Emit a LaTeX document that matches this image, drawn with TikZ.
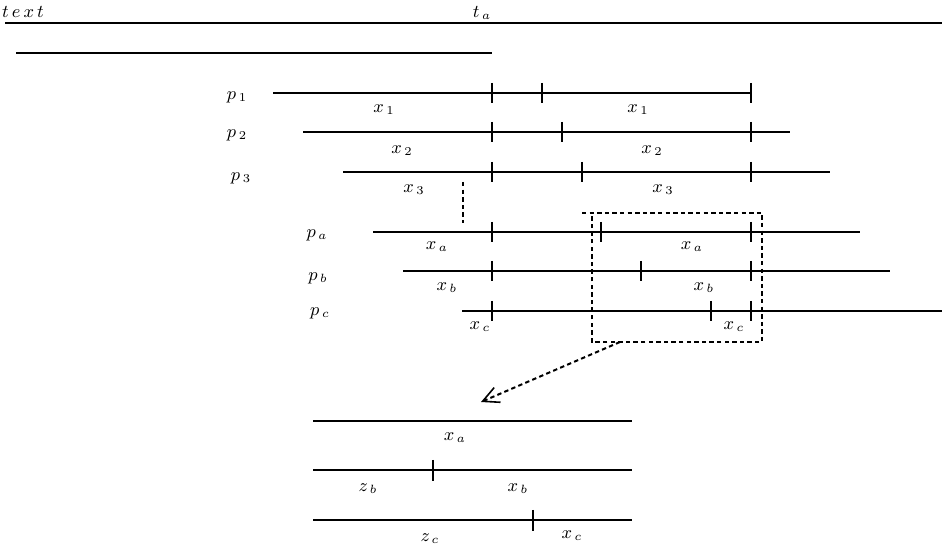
\documentclass[tikz,border=0pt]{standalone}
\usetikzlibrary{arrows.meta}
\begin{document}
\begin{tikzpicture}[x=0.5pt,y=-0.5pt,
  seg/.style={line width=0.9pt},
  tick/.style={line width=0.9pt},
  lbl/.style={inner sep=0pt,font=\fontsize{9}{10}\selectfont},
  dsh/.style={line width=1pt,dash pattern=on 2.2pt off 1.6pt},
]
\useasboundingbox (0,0) rectangle (942,549);
% header
\node[lbl] (txt) at (23,12) {$t\,e\,x\,t$};
\node[lbl] (ta) at (482,13) {$t_{\,a}$};
\draw[seg] (5,23) coordinate (h1) -- (942,23) coordinate (h2);
\draw[seg] (16,53) coordinate (g1) -- (492,53) coordinate (g2);
% rows: label, y, start, end, ticks
\newcommand{\rowline}[5]{%
  \draw[seg] (#3,#2) -- (#4,#2);
  \foreach \t in {#5} {\draw[tick] (\t,#2-10) -- (\t,#2+10);}
}
\node[lbl] (p1) at (237,97) {$p_{\,1}$};
\rowline{p1}{93}{273}{751}{492,542,751}
\node[lbl] (x1a) at (384,110) {$x_{\,1}$};
\node[lbl] (x1b) at (638,110) {$x_{\,1}$};

\node[lbl] (p2) at (237,135) {$p_{\,2}$};
\rowline{p2}{132}{303}{790}{492,562,751}
\node[lbl] (x2a) at (402,151) {$x_{\,2}$};
\node[lbl] (x2b) at (652,151) {$x_{\,2}$};

\node[lbl] (p3) at (241,178) {$p_{\,3}$};
\rowline{p3}{172}{343}{830}{492,582,751}
\node[lbl] (x3a) at (414,190) {$x_{\,3}$};
\node[lbl] (x3b) at (663,190) {$x_{\,3}$};

\draw[dsh] (463,182) coordinate (v1) -- (463,223) coordinate (v2);

\node[lbl] (pa) at (317,235) {$p_{\,a}$};
\rowline{pa}{232}{373}{860}{492,601,751}
\node[lbl] (xaa) at (437,247) {$x_{\,a}$};
\node[lbl] (xab) at (692,247) {$x_{\,a}$};

\node[lbl] (pb) at (318,278) {$p_{\,b}$};
\rowline{pb}{271}{403}{890}{492,641,751}
\node[lbl] (xba) at (447,288) {$x_{\,b}$};
\node[lbl] (xbb) at (704,288) {$x_{\,b}$};

\node[lbl] (pc) at (320,313) {$p_{\,c}$};
\rowline{pc}{311}{462}{942}{492,711,751}
\node[lbl] (xca) at (480,327) {$x_{\,c}$};
\node[lbl] (xcb) at (734,327) {$x_{\,c}$};

% dashed box
\coordinate (bx1) at (582,213);
\coordinate (bx2) at (762,213);
\coordinate (bx3) at (762,342);
\coordinate (bx4) at (592,342);
\coordinate (bx5) at (592,213);
\draw[dsh] (bx1) -- (bx2) -- (bx3) -- (bx4) -- (bx5);
\coordinate (arS) at (620,342);
\coordinate (arE) at (481,402);
\draw[dsh,-{Straight Barb[length=8pt,width=8pt,line width=0.8pt]}] (arS) -- (arE);

% bottom
\draw[seg] (313,421) -- (632,421);
\node[lbl] (bxa) at (455,438) {$x_{\,a}$};
\draw[seg] (313,470) -- (632,470);
\draw[tick] (433,460) -- (433,481);
\node[lbl] (bzb) at (368,489) {$z_{\,b}$};
\node[lbl] (bxb) at (518,489) {$x_{\,b}$};
\draw[seg] (313,520) -- (632,520);
\draw[tick] (533,510) -- (533,531);
\node[lbl] (bzc) at (430,539) {$z_{\,c}$};
\node[lbl] (bxc) at (572,536) {$x_{\,c}$};
\end{tikzpicture}
\end{document}
